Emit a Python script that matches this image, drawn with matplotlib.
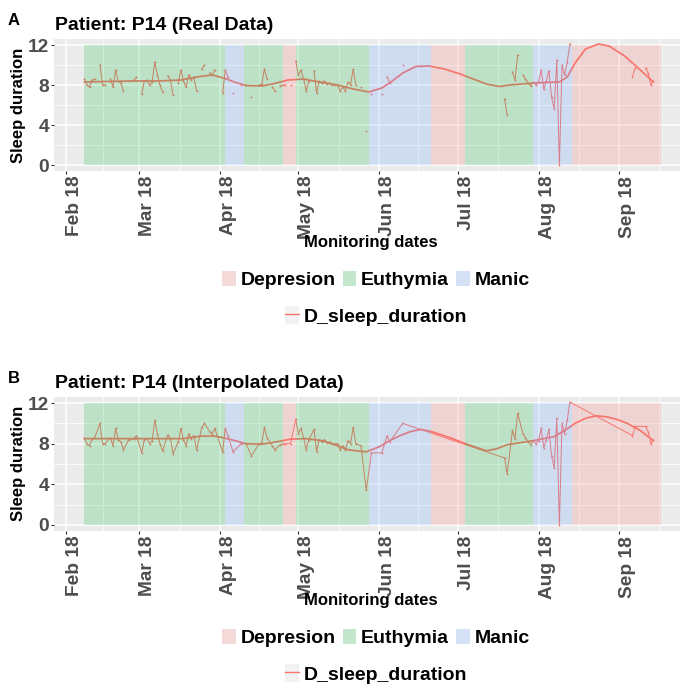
import numpy as np
import pandas as pd
import matplotlib
matplotlib.use("Agg")
import matplotlib.pyplot as plt
import matplotlib.dates as mdates
from matplotlib.patches import Patch
from matplotlib.lines import Line2D
from matplotlib.ticker import FixedLocator

plt.rcParams['font.family'] = ['Liberation Sans', 'DejaVu Sans']
plt.rcParams['font.weight'] = 'bold'

YEAR = "2018-"

# ---------------- data ----------------
obs_md = ["02-08", "02-09", "02-10", "02-11", "02-12", "02-14", "02-15", "02-16", "02-18", "02-19",
          "02-20", "02-21", "02-22", "02-23", "02-25", "02-27", "02-28", "03-02", "03-03", "03-04",
          "03-05", "03-06", "03-07", "03-08", "03-09", "03-10", "03-12", "03-13", "03-14", "03-16",
          "03-17", "03-18", "03-19", "03-20", "03-21", "03-22", "03-23", "03-25", "03-26", "03-28",
          "03-29", "03-30", "04-02", "04-03", "04-04", "04-06", "04-09", "04-11", "04-13", "04-16",
          "04-17", "04-18", "04-19", "04-21", "04-22", "04-24", "04-25", "04-26", "04-28", "04-30",
          "05-01", "05-02", "05-03", "05-04", "05-05", "05-07", "05-08", "05-09", "05-10", "05-11",
          "05-12", "05-13", "05-14", "05-15", "05-16", "05-17", "05-18", "05-19", "05-20", "05-21",
          "05-22", "05-23", "05-25", "05-27", "05-29", "06-02", "06-04", "06-05", "06-10", "07-19",
          "07-20", "07-22", "07-23", "07-24", "07-26", "07-27", "07-28", "07-29", "07-30", "07-31",
          "08-01", "08-02", "08-03", "08-04", "08-05", "08-06", "08-07", "08-08", "08-09", "08-10",
          "08-11", "08-12", "08-13", "09-06", "09-07", "09-11", "09-12", "09-13", "09-14"]
sleep_duration = [8.6, 8.0, 7.8, 8.5, 8.6, 10.0, 8.0, 8.0, 8.6, 7.8,
                  9.5, 8.4, 8.2, 7.4, 8.4, 8.5, 8.8, 7.1, 8.4, 8.5,
                  8.0, 8.3, 10.3, 9.0, 8.0, 7.3, 8.9, 8.5, 7.0, 8.2,
                  9.5, 8.4, 7.8, 9.0, 8.5, 8.8, 7.4, 9.6, 10.0, 9.2,
                  9.0, 9.5, 7.2, 9.5, 8.8, 7.2, 8.0, 8.0, 6.8, 8.0,
                  8.1, 9.6, 8.6, 7.8, 7.4, 7.9, 8.0, 8.0, 8.0, 10.4,
                  9.0, 9.5, 8.6, 7.4, 8.4, 9.4, 7.2, 8.4, 8.2, 8.4,
                  8.1, 8.2, 8.0, 8.0, 8.0, 7.4, 7.8, 7.4, 8.3, 8.0,
                  9.6, 8.0, 7.8, 3.4, 7.1, 7.1, 8.8, 8.2, 10.0, 6.6,
                  5.0, 9.3, 8.5, 11.0, 9.0, 8.6, 8.2, 7.9, 8.3, 8.0,
                  8.3, 9.5, 7.6, 8.4, 9.4, 6.8, 5.6, 10.5, 0.0, 10.0,
                  9.0, 10.3, 12.1, 8.8, 9.7, 9.7, 9.2, 8.0, 8.4]

# loess trend (real data)
smoothA_md = ["02-08", "02-16", "02-26", "03-08", "03-17", "03-23", "03-29", "04-03", "04-07", "04-11",
              "04-17", "04-22", "04-27", "05-03", "05-09", "05-16", "05-22", "05-28", "06-02", "06-06",
              "06-10", "06-15", "06-20", "06-26", "07-02", "07-08", "07-12", "07-17", "07-21", "07-30",
              "08-09", "08-12", "08-15", "08-19", "08-24", "08-28", "09-03", "09-09", "09-14"]
smoothA_val = [8.3, 8.35, 8.4, 8.4, 8.5, 8.8, 9.0, 8.65, 8.25, 7.95,
               7.9, 8.15, 8.5, 8.6, 8.3, 8.0, 7.6, 7.3, 7.7, 8.4,
               9.2, 9.85, 9.9, 9.6, 9.1, 8.5, 8.1, 7.85, 8.0, 8.2,
               8.3, 8.8, 10.2, 11.6, 12.1, 11.9, 10.9, 9.5, 8.3]

# loess trend (interpolated data)
smoothB_md = ["02-08", "02-26", "03-18", "03-25", "03-30", "04-02", "04-06", "04-11", "04-17", "04-22",
              "04-28", "05-04", "05-10", "05-16", "05-20", "05-27", "06-01", "06-05", "06-09", "06-13",
              "06-17", "06-21", "06-28", "07-04", "07-12", "07-16", "07-20", "07-30", "08-07", "08-11",
              "08-15", "08-19", "08-23", "08-27", "08-31", "09-04", "09-09", "09-14"]
smoothB_val = [8.5, 8.5, 8.5, 8.75, 8.75, 8.6, 8.35, 8.0, 7.95, 8.15,
               8.45, 8.5, 8.3, 7.8, 7.4, 7.2, 7.7, 8.3, 8.8, 9.2,
               9.4, 9.2, 8.6, 8.0, 7.3, 7.5, 7.9, 8.3, 8.7, 9.3,
               10.0, 10.5, 10.75, 10.65, 10.4, 10.0, 9.3, 8.3]

phase_names = ["Euthymia", "Manic", "Euthymia", "Depresion", "Euthymia",
               "Manic", "Depresion", "Euthymia", "Manic", "Depresion"]
phase_start = ["02-08", "04-03", "04-10", "04-25", "04-30", "05-28", "06-21", "07-04", "07-30", "08-14"]
phase_end = ["04-03", "04-10", "04-25", "04-30", "05-28", "06-21", "07-04", "07-30", "08-14", "09-17"]

legend_states = ["Depresion", "Euthymia", "Manic"]
y_ticks = [0, 4, 8, 12]

# ---------------- style ----------------
RED = "#F8766D"
phase_color = {"Depresion": "#F8766D", "Euthymia": "#00BA38", "Manic": "#619CFF"}
key_color = {"Depresion": "#F3D9D7", "Euthymia": "#C2E7CD", "Manic": "#D5E1F5"}
PANEL_BG = "#EBEBEB"
TICK_TXT = "#4D4D4D"

W, H = 680, 684


def fx(px):
    return px / W


def fy(py):
    return 1 - py / H


def to_dt(mds):
    return pd.to_datetime([YEAR + s for s in mds])


obs_dt = to_dt(obs_md)
series = pd.Series(sleep_duration, index=obs_dt)
full_idx = pd.date_range(obs_dt.min(), obs_dt.max(), freq="D")
series_gaps = series.reindex(full_idx)

base = pd.Timestamp("2018-02-01")
x_left = base + pd.Timedelta(days=-4.6)
x_right = base + pd.Timedelta(days=235.2)

month_starts = pd.date_range("2018-01-01", "2018-10-01", freq="MS")
minor_pos = [month_starts[i] + (month_starts[i + 1] - month_starts[i]) / 2
             for i in range(len(month_starts) - 1)]

fig = plt.figure(figsize=(W / 100, H / 100), dpi=100)


def make_panel(top_px, bottom_px, title, letter, interpolated, smooth_md, smooth_val):
    ax = fig.add_axes([fx(54), fy(bottom_px), fx(680) - fx(54), (bottom_px - top_px) / H])
    ax.set_facecolor(PANEL_BG)
    for s in ax.spines.values():
        s.set_visible(False)

    # data line
    if interpolated:
        ax.plot(series.index, series.values, color=RED, lw=0.7, zorder=2,
                marker="o", ms=1.3, mew=0)
    else:
        ax.plot(series_gaps.index, series_gaps.values, color=RED, lw=0.7, zorder=2)
        ax.plot(series.index, series.values, ls="none", color=RED,
                marker="o", ms=1.3, mew=0, zorder=2)
    # smooth trend
    ax.plot(to_dt(smooth_md), smooth_val, color=RED, lw=1.25, zorder=2.5,
            solid_capstyle="round", solid_joinstyle="round")

    # phases
    for name, s, e in zip(phase_names, phase_start, phase_end):
        sd, ed = to_dt([s, e])
        ax.fill_between([sd, ed], 0, 12, color=phase_color[name], alpha=0.2,
                        lw=0, zorder=3)

    ax.set_ylim(-0.6, 12.6)
    ax.set_xlim(x_left, x_right)
    ax.set_yticks(y_ticks)
    ax.set_yticklabels([str(v) for v in y_ticks])
    ax.yaxis.set_minor_locator(FixedLocator([2, 6, 10]))
    ax.xaxis.set_major_locator(mdates.MonthLocator())
    ax.xaxis.set_major_formatter(mdates.DateFormatter("%b %y"))
    ax.xaxis.set_minor_locator(FixedLocator(mdates.date2num(minor_pos)))

    ax.grid(which="major", color="white", lw=1.1, zorder=0)
    ax.grid(which="minor", color="white", lw=0.55, zorder=0)
    ax.set_axisbelow(True)

    ax.tick_params(which="major", length=2.4, width=0.8, color="#333333",
                   labelsize=13.8, labelcolor=TICK_TXT, pad=1)
    ax.tick_params(which="minor", length=0)
    ax.tick_params(axis="x", labelrotation=90)
    for lab in ax.get_xticklabels():
        lab.set_horizontalalignment("left")
        lab.set_fontweight("bold")
    for lab in ax.get_yticklabels():
        lab.set_fontweight("bold")

    off = top_px - 39
    fig.text(fx(55), fy(30 + off), title, fontsize=14, fontweight="bold",
             ha="left", va="baseline")
    fig.text(fx(8), fy(25 + off), letter, fontsize=12, fontweight="bold",
             ha="left", va="baseline")
    fig.text(fx(19), fy(105 + off), "Sleep duration", fontsize=12, fontweight="bold",
             rotation=90, ha="center", va="center")
    fig.text(fx(371), fy(243 + off), "Monitoring dates", fontsize=12, fontweight="bold",
             ha="center", va="center")

    # legends
    handles = [Patch(facecolor=key_color[n], edgecolor="none") for n in legend_states]
    fig.legend(handles, legend_states, loc="center",
               bbox_to_anchor=(fx(376), fy(280 + off)), ncol=3, frameon=False,
               prop={"size": 14, "weight": "bold"}, handlelength=0.7,
               handleheight=0.85, handletextpad=0.25, columnspacing=0.35,
               borderpad=0, borderaxespad=0)
    line_handle = (Patch(facecolor="#F2F2F2", edgecolor="none"),
                   Line2D([], [], color=RED, lw=1.0))
    fig.legend([line_handle], ["D_sleep_duration"], loc="center",
               bbox_to_anchor=(fx(376), fy(316 + off)), frameon=False,
               prop={"size": 14, "weight": "bold"}, handlelength=0.7,
               handleheight=1.0, handletextpad=0.25, borderpad=0, borderaxespad=0)
    return ax


make_panel(39, 171, "Patient: P14 (Real Data)", "A", False, smoothA_md, smoothA_val)
make_panel(397, 531, "Patient: P14 (Interpolated Data)", "B", True, smoothB_md, smoothB_val)

fig.savefig("out.png", dpi=100, facecolor="white")
